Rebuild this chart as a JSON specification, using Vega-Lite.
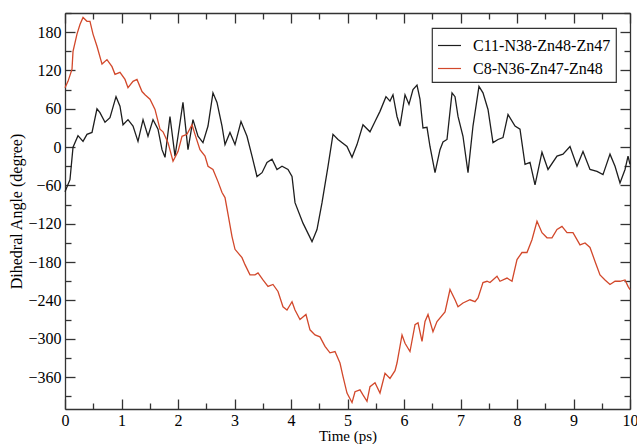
{
  "$schema": "https://vega.github.io/schema/vega-lite/v6.json",
  "width": 565,
  "height": 396,
  "autosize": {"type": "none"},
  "padding": {"left": 65, "top": 13, "right": 7, "bottom": 35},
  "background": "white",
  "config": {
    "view": {"stroke": null},
    "font": "Liberation Serif, Times New Roman, serif",
    "axis": {"grid": false, "labelFont": "Liberation Serif, Times New Roman, serif", "titleFont": "Liberation Serif, Times New Roman, serif", "labelColor": "#000", "titleColor": "#000", "domainColor": "#333", "tickColor": "#333", "domainWidth": 1.3, "tickWidth": 1.3, "titleFontWeight": "normal"},
    "legend": {"orient": "none", "legendX": 367, "legendY": 15, "strokeColor": "#333", "strokeWidth": 1.2, "fillColor": "white", "padding": 5, "symbolType": "stroke", "symbolSize": 529, "symbolStrokeWidth": 1.2, "labelFont": "Liberation Serif, Times New Roman, serif", "labelFontSize": 16, "labelColor": "#000", "labelOffset": 11, "rowPadding": 2, "labelLimit": 300, "cornerRadius": 0}
  },
  "datasets": {
    "d": [
      {"t":0,"v":-70,"s":"C11-N38-Zn48-Zn47"},{"t":0.088,"v":-51,"s":"C11-N38-Zn48-Zn47"},{"t":0.142,"v":0,"s":"C11-N38-Zn48-Zn47"},{"t":0.23,"v":18,"s":"C11-N38-Zn48-Zn47"},{"t":0.319,"v":9,"s":"C11-N38-Zn48-Zn47"},{"t":0.389,"v":20,"s":"C11-N38-Zn48-Zn47"},{"t":0.478,"v":23,"s":"C11-N38-Zn48-Zn47"},{"t":0.566,"v":60,"s":"C11-N38-Zn48-Zn47"},{"t":0.619,"v":54,"s":"C11-N38-Zn48-Zn47"},{"t":0.708,"v":39,"s":"C11-N38-Zn48-Zn47"},{"t":0.796,"v":46,"s":"C11-N38-Zn48-Zn47"},{"t":0.903,"v":79,"s":"C11-N38-Zn48-Zn47"},{"t":0.973,"v":64,"s":"C11-N38-Zn48-Zn47"},{"t":1.027,"v":35,"s":"C11-N38-Zn48-Zn47"},{"t":1.115,"v":43,"s":"C11-N38-Zn48-Zn47"},{"t":1.204,"v":33,"s":"C11-N38-Zn48-Zn47"},{"t":1.292,"v":9,"s":"C11-N38-Zn48-Zn47"},{"t":1.381,"v":43,"s":"C11-N38-Zn48-Zn47"},{"t":1.469,"v":17,"s":"C11-N38-Zn48-Zn47"},{"t":1.558,"v":43,"s":"C11-N38-Zn48-Zn47"},{"t":1.646,"v":28,"s":"C11-N38-Zn48-Zn47"},{"t":1.717,"v":-4,"s":"C11-N38-Zn48-Zn47"},{"t":1.77,"v":-16,"s":"C11-N38-Zn48-Zn47"},{"t":1.858,"v":48,"s":"C11-N38-Zn48-Zn47"},{"t":1.947,"v":-14,"s":"C11-N38-Zn48-Zn47"},{"t":2.0,"v":17,"s":"C11-N38-Zn48-Zn47"},{"t":2.088,"v":70,"s":"C11-N38-Zn48-Zn47"},{"t":2.177,"v":-4,"s":"C11-N38-Zn48-Zn47"},{"t":2.265,"v":43,"s":"C11-N38-Zn48-Zn47"},{"t":2.354,"v":17,"s":"C11-N38-Zn48-Zn47"},{"t":2.442,"v":7,"s":"C11-N38-Zn48-Zn47"},{"t":2.531,"v":33,"s":"C11-N38-Zn48-Zn47"},{"t":2.619,"v":85,"s":"C11-N38-Zn48-Zn47"},{"t":2.69,"v":70,"s":"C11-N38-Zn48-Zn47"},{"t":2.779,"v":33,"s":"C11-N38-Zn48-Zn47"},{"t":2.832,"v":4,"s":"C11-N38-Zn48-Zn47"},{"t":2.92,"v":23,"s":"C11-N38-Zn48-Zn47"},{"t":3.009,"v":4,"s":"C11-N38-Zn48-Zn47"},{"t":3.115,"v":40,"s":"C11-N38-Zn48-Zn47"},{"t":3.221,"v":17,"s":"C11-N38-Zn48-Zn47"},{"t":3.31,"v":-14,"s":"C11-N38-Zn48-Zn47"},{"t":3.398,"v":-46,"s":"C11-N38-Zn48-Zn47"},{"t":3.487,"v":-40,"s":"C11-N38-Zn48-Zn47"},{"t":3.575,"v":-24,"s":"C11-N38-Zn48-Zn47"},{"t":3.664,"v":-19,"s":"C11-N38-Zn48-Zn47"},{"t":3.752,"v":-35,"s":"C11-N38-Zn48-Zn47"},{"t":3.841,"v":-30,"s":"C11-N38-Zn48-Zn47"},{"t":3.947,"v":-35,"s":"C11-N38-Zn48-Zn47"},{"t":4.018,"v":-46,"s":"C11-N38-Zn48-Zn47"},{"t":4.071,"v":-87,"s":"C11-N38-Zn48-Zn47"},{"t":4.212,"v":-119,"s":"C11-N38-Zn48-Zn47"},{"t":4.372,"v":-148,"s":"C11-N38-Zn48-Zn47"},{"t":4.46,"v":-129,"s":"C11-N38-Zn48-Zn47"},{"t":4.549,"v":-87,"s":"C11-N38-Zn48-Zn47"},{"t":4.655,"v":-30,"s":"C11-N38-Zn48-Zn47"},{"t":4.743,"v":20,"s":"C11-N38-Zn48-Zn47"},{"t":4.832,"v":12,"s":"C11-N38-Zn48-Zn47"},{"t":4.991,"v":1,"s":"C11-N38-Zn48-Zn47"},{"t":5.08,"v":-16,"s":"C11-N38-Zn48-Zn47"},{"t":5.168,"v":4,"s":"C11-N38-Zn48-Zn47"},{"t":5.274,"v":35,"s":"C11-N38-Zn48-Zn47"},{"t":5.398,"v":24,"s":"C11-N38-Zn48-Zn47"},{"t":5.487,"v":40,"s":"C11-N38-Zn48-Zn47"},{"t":5.575,"v":56,"s":"C11-N38-Zn48-Zn47"},{"t":5.681,"v":79,"s":"C11-N38-Zn48-Zn47"},{"t":5.752,"v":72,"s":"C11-N38-Zn48-Zn47"},{"t":5.805,"v":82,"s":"C11-N38-Zn48-Zn47"},{"t":5.876,"v":48,"s":"C11-N38-Zn48-Zn47"},{"t":5.929,"v":33,"s":"C11-N38-Zn48-Zn47"},{"t":6.018,"v":82,"s":"C11-N38-Zn48-Zn47"},{"t":6.088,"v":67,"s":"C11-N38-Zn48-Zn47"},{"t":6.159,"v":90,"s":"C11-N38-Zn48-Zn47"},{"t":6.23,"v":97,"s":"C11-N38-Zn48-Zn47"},{"t":6.283,"v":75,"s":"C11-N38-Zn48-Zn47"},{"t":6.336,"v":30,"s":"C11-N38-Zn48-Zn47"},{"t":6.407,"v":31,"s":"C11-N38-Zn48-Zn47"},{"t":6.46,"v":1,"s":"C11-N38-Zn48-Zn47"},{"t":6.549,"v":-40,"s":"C11-N38-Zn48-Zn47"},{"t":6.637,"v":-4,"s":"C11-N38-Zn48-Zn47"},{"t":6.69,"v":8,"s":"C11-N38-Zn48-Zn47"},{"t":6.761,"v":12,"s":"C11-N38-Zn48-Zn47"},{"t":6.85,"v":85,"s":"C11-N38-Zn48-Zn47"},{"t":6.903,"v":79,"s":"C11-N38-Zn48-Zn47"},{"t":6.956,"v":48,"s":"C11-N38-Zn48-Zn47"},{"t":7.044,"v":17,"s":"C11-N38-Zn48-Zn47"},{"t":7.133,"v":-40,"s":"C11-N38-Zn48-Zn47"},{"t":7.221,"v":33,"s":"C11-N38-Zn48-Zn47"},{"t":7.327,"v":95,"s":"C11-N38-Zn48-Zn47"},{"t":7.398,"v":85,"s":"C11-N38-Zn48-Zn47"},{"t":7.487,"v":59,"s":"C11-N38-Zn48-Zn47"},{"t":7.575,"v":7,"s":"C11-N38-Zn48-Zn47"},{"t":7.664,"v":12,"s":"C11-N38-Zn48-Zn47"},{"t":7.752,"v":15,"s":"C11-N38-Zn48-Zn47"},{"t":7.841,"v":51,"s":"C11-N38-Zn48-Zn47"},{"t":7.965,"v":33,"s":"C11-N38-Zn48-Zn47"},{"t":8.053,"v":28,"s":"C11-N38-Zn48-Zn47"},{"t":8.142,"v":-27,"s":"C11-N38-Zn48-Zn47"},{"t":8.23,"v":-24,"s":"C11-N38-Zn48-Zn47"},{"t":8.319,"v":-59,"s":"C11-N38-Zn48-Zn47"},{"t":8.442,"v":-8,"s":"C11-N38-Zn48-Zn47"},{"t":8.549,"v":-35,"s":"C11-N38-Zn48-Zn47"},{"t":8.708,"v":-14,"s":"C11-N38-Zn48-Zn47"},{"t":8.814,"v":-11,"s":"C11-N38-Zn48-Zn47"},{"t":8.938,"v":1,"s":"C11-N38-Zn48-Zn47"},{"t":9.062,"v":-30,"s":"C11-N38-Zn48-Zn47"},{"t":9.168,"v":-7,"s":"C11-N38-Zn48-Zn47"},{"t":9.292,"v":-35,"s":"C11-N38-Zn48-Zn47"},{"t":9.416,"v":-38,"s":"C11-N38-Zn48-Zn47"},{"t":9.522,"v":-43,"s":"C11-N38-Zn48-Zn47"},{"t":9.646,"v":-11,"s":"C11-N38-Zn48-Zn47"},{"t":9.735,"v":-30,"s":"C11-N38-Zn48-Zn47"},{"t":9.823,"v":-56,"s":"C11-N38-Zn48-Zn47"},{"t":9.912,"v":-35,"s":"C11-N38-Zn48-Zn47"},{"t":9.965,"v":-14,"s":"C11-N38-Zn48-Zn47"},{"t":10.0,"v":-27,"s":"C11-N38-Zn48-Zn47"},
      {"t":0,"v":93,"s":"C8-N36-Zn47-Zn48"},{"t":0.053,"v":103,"s":"C8-N36-Zn47-Zn48"},{"t":0.124,"v":122,"s":"C8-N36-Zn47-Zn48"},{"t":0.142,"v":150,"s":"C8-N36-Zn47-Zn48"},{"t":0.212,"v":177,"s":"C8-N36-Zn47-Zn48"},{"t":0.265,"v":192,"s":"C8-N36-Zn47-Zn48"},{"t":0.319,"v":203,"s":"C8-N36-Zn47-Zn48"},{"t":0.389,"v":197,"s":"C8-N36-Zn47-Zn48"},{"t":0.442,"v":197,"s":"C8-N36-Zn47-Zn48"},{"t":0.496,"v":177,"s":"C8-N36-Zn47-Zn48"},{"t":0.566,"v":158,"s":"C8-N36-Zn47-Zn48"},{"t":0.655,"v":130,"s":"C8-N36-Zn47-Zn48"},{"t":0.743,"v":137,"s":"C8-N36-Zn47-Zn48"},{"t":0.832,"v":126,"s":"C8-N36-Zn47-Zn48"},{"t":0.885,"v":114,"s":"C8-N36-Zn47-Zn48"},{"t":0.973,"v":117,"s":"C8-N36-Zn47-Zn48"},{"t":1.062,"v":106,"s":"C8-N36-Zn47-Zn48"},{"t":1.115,"v":93,"s":"C8-N36-Zn47-Zn48"},{"t":1.204,"v":103,"s":"C8-N36-Zn47-Zn48"},{"t":1.274,"v":106,"s":"C8-N36-Zn47-Zn48"},{"t":1.363,"v":87,"s":"C8-N36-Zn47-Zn48"},{"t":1.416,"v":82,"s":"C8-N36-Zn47-Zn48"},{"t":1.504,"v":75,"s":"C8-N36-Zn47-Zn48"},{"t":1.593,"v":59,"s":"C8-N36-Zn47-Zn48"},{"t":1.681,"v":28,"s":"C8-N36-Zn47-Zn48"},{"t":1.735,"v":24,"s":"C8-N36-Zn47-Zn48"},{"t":1.823,"v":7,"s":"C8-N36-Zn47-Zn48"},{"t":1.912,"v":-22,"s":"C8-N36-Zn47-Zn48"},{"t":2.0,"v":-7,"s":"C8-N36-Zn47-Zn48"},{"t":2.071,"v":17,"s":"C8-N36-Zn47-Zn48"},{"t":2.159,"v":20,"s":"C8-N36-Zn47-Zn48"},{"t":2.248,"v":35,"s":"C8-N36-Zn47-Zn48"},{"t":2.301,"v":20,"s":"C8-N36-Zn47-Zn48"},{"t":2.389,"v":-4,"s":"C8-N36-Zn47-Zn48"},{"t":2.478,"v":-14,"s":"C8-N36-Zn47-Zn48"},{"t":2.531,"v":-30,"s":"C8-N36-Zn47-Zn48"},{"t":2.619,"v":-35,"s":"C8-N36-Zn47-Zn48"},{"t":2.708,"v":-54,"s":"C8-N36-Zn47-Zn48"},{"t":2.779,"v":-71,"s":"C8-N36-Zn47-Zn48"},{"t":2.832,"v":-79,"s":"C8-N36-Zn47-Zn48"},{"t":2.885,"v":-105,"s":"C8-N36-Zn47-Zn48"},{"t":2.956,"v":-140,"s":"C8-N36-Zn47-Zn48"},{"t":3.009,"v":-160,"s":"C8-N36-Zn47-Zn48"},{"t":3.133,"v":-173,"s":"C8-N36-Zn47-Zn48"},{"t":3.186,"v":-184,"s":"C8-N36-Zn47-Zn48"},{"t":3.274,"v":-200,"s":"C8-N36-Zn47-Zn48"},{"t":3.363,"v":-200,"s":"C8-N36-Zn47-Zn48"},{"t":3.416,"v":-197,"s":"C8-N36-Zn47-Zn48"},{"t":3.504,"v":-208,"s":"C8-N36-Zn47-Zn48"},{"t":3.593,"v":-218,"s":"C8-N36-Zn47-Zn48"},{"t":3.681,"v":-215,"s":"C8-N36-Zn47-Zn48"},{"t":3.77,"v":-226,"s":"C8-N36-Zn47-Zn48"},{"t":3.858,"v":-250,"s":"C8-N36-Zn47-Zn48"},{"t":3.929,"v":-255,"s":"C8-N36-Zn47-Zn48"},{"t":4.018,"v":-242,"s":"C8-N36-Zn47-Zn48"},{"t":4.071,"v":-255,"s":"C8-N36-Zn47-Zn48"},{"t":4.159,"v":-270,"s":"C8-N36-Zn47-Zn48"},{"t":4.265,"v":-262,"s":"C8-N36-Zn47-Zn48"},{"t":4.336,"v":-286,"s":"C8-N36-Zn47-Zn48"},{"t":4.425,"v":-294,"s":"C8-N36-Zn47-Zn48"},{"t":4.513,"v":-297,"s":"C8-N36-Zn47-Zn48"},{"t":4.602,"v":-312,"s":"C8-N36-Zn47-Zn48"},{"t":4.69,"v":-322,"s":"C8-N36-Zn47-Zn48"},{"t":4.779,"v":-320,"s":"C8-N36-Zn47-Zn48"},{"t":4.867,"v":-338,"s":"C8-N36-Zn47-Zn48"},{"t":4.92,"v":-359,"s":"C8-N36-Zn47-Zn48"},{"t":4.991,"v":-385,"s":"C8-N36-Zn47-Zn48"},{"t":5.08,"v":-400,"s":"C8-N36-Zn47-Zn48"},{"t":5.133,"v":-383,"s":"C8-N36-Zn47-Zn48"},{"t":5.221,"v":-380,"s":"C8-N36-Zn47-Zn48"},{"t":5.274,"v":-388,"s":"C8-N36-Zn47-Zn48"},{"t":5.345,"v":-398,"s":"C8-N36-Zn47-Zn48"},{"t":5.398,"v":-375,"s":"C8-N36-Zn47-Zn48"},{"t":5.487,"v":-369,"s":"C8-N36-Zn47-Zn48"},{"t":5.575,"v":-385,"s":"C8-N36-Zn47-Zn48"},{"t":5.664,"v":-354,"s":"C8-N36-Zn47-Zn48"},{"t":5.752,"v":-362,"s":"C8-N36-Zn47-Zn48"},{"t":5.841,"v":-350,"s":"C8-N36-Zn47-Zn48"},{"t":5.876,"v":-338,"s":"C8-N36-Zn47-Zn48"},{"t":5.965,"v":-294,"s":"C8-N36-Zn47-Zn48"},{"t":6.018,"v":-307,"s":"C8-N36-Zn47-Zn48"},{"t":6.106,"v":-320,"s":"C8-N36-Zn47-Zn48"},{"t":6.195,"v":-278,"s":"C8-N36-Zn47-Zn48"},{"t":6.248,"v":-275,"s":"C8-N36-Zn47-Zn48"},{"t":6.319,"v":-304,"s":"C8-N36-Zn47-Zn48"},{"t":6.372,"v":-273,"s":"C8-N36-Zn47-Zn48"},{"t":6.425,"v":-262,"s":"C8-N36-Zn47-Zn48"},{"t":6.513,"v":-289,"s":"C8-N36-Zn47-Zn48"},{"t":6.584,"v":-273,"s":"C8-N36-Zn47-Zn48"},{"t":6.726,"v":-258,"s":"C8-N36-Zn47-Zn48"},{"t":6.814,"v":-223,"s":"C8-N36-Zn47-Zn48"},{"t":6.903,"v":-239,"s":"C8-N36-Zn47-Zn48"},{"t":6.956,"v":-250,"s":"C8-N36-Zn47-Zn48"},{"t":7.044,"v":-244,"s":"C8-N36-Zn47-Zn48"},{"t":7.168,"v":-239,"s":"C8-N36-Zn47-Zn48"},{"t":7.257,"v":-242,"s":"C8-N36-Zn47-Zn48"},{"t":7.31,"v":-236,"s":"C8-N36-Zn47-Zn48"},{"t":7.398,"v":-212,"s":"C8-N36-Zn47-Zn48"},{"t":7.469,"v":-210,"s":"C8-N36-Zn47-Zn48"},{"t":7.522,"v":-212,"s":"C8-N36-Zn47-Zn48"},{"t":7.646,"v":-202,"s":"C8-N36-Zn47-Zn48"},{"t":7.699,"v":-210,"s":"C8-N36-Zn47-Zn48"},{"t":7.823,"v":-205,"s":"C8-N36-Zn47-Zn48"},{"t":7.912,"v":-210,"s":"C8-N36-Zn47-Zn48"},{"t":8.0,"v":-176,"s":"C8-N36-Zn47-Zn48"},{"t":8.088,"v":-165,"s":"C8-N36-Zn47-Zn48"},{"t":8.177,"v":-165,"s":"C8-N36-Zn47-Zn48"},{"t":8.265,"v":-145,"s":"C8-N36-Zn47-Zn48"},{"t":8.354,"v":-116,"s":"C8-N36-Zn47-Zn48"},{"t":8.442,"v":-134,"s":"C8-N36-Zn47-Zn48"},{"t":8.531,"v":-142,"s":"C8-N36-Zn47-Zn48"},{"t":8.619,"v":-142,"s":"C8-N36-Zn47-Zn48"},{"t":8.708,"v":-129,"s":"C8-N36-Zn47-Zn48"},{"t":8.796,"v":-124,"s":"C8-N36-Zn47-Zn48"},{"t":8.885,"v":-134,"s":"C8-N36-Zn47-Zn48"},{"t":8.991,"v":-134,"s":"C8-N36-Zn47-Zn48"},{"t":9.115,"v":-153,"s":"C8-N36-Zn47-Zn48"},{"t":9.204,"v":-150,"s":"C8-N36-Zn47-Zn48"},{"t":9.292,"v":-157,"s":"C8-N36-Zn47-Zn48"},{"t":9.381,"v":-179,"s":"C8-N36-Zn47-Zn48"},{"t":9.469,"v":-200,"s":"C8-N36-Zn47-Zn48"},{"t":9.558,"v":-208,"s":"C8-N36-Zn47-Zn48"},{"t":9.646,"v":-215,"s":"C8-N36-Zn47-Zn48"},{"t":9.735,"v":-210,"s":"C8-N36-Zn47-Zn48"},{"t":9.823,"v":-210,"s":"C8-N36-Zn47-Zn48"},{"t":9.912,"v":-208,"s":"C8-N36-Zn47-Zn48"},{"t":9.965,"v":-218,"s":"C8-N36-Zn47-Zn48"},{"t":10.0,"v":-223,"s":"C8-N36-Zn47-Zn48"}
    ]
  },
  "data": {"name": "d"},
  "resolve": {"axis": {"x": "independent", "y": "independent"}},
  "layer": [
    {
      "mark": {"type": "line", "strokeWidth": 1.3, "interpolate": "linear"},
      "encoding": {
        "x": {"field": "t", "type": "quantitative", "scale": {"domain": [0, 10], "nice": false, "zero": false},
          "axis": {"orient": "bottom", "values": [0,1,2,3,4,5,6,7,8,9,10], "ticks": false, "labelPadding": 3, "labelFontSize": 16, "title": "Time (ps)", "titleFontSize": 15, "titlePadding": 0, "labelFlush": false}},
        "y": {"field": "v", "type": "quantitative", "scale": {"domain": [-410, 210], "nice": false, "zero": false},
          "axis": {"orient": "left", "values": [-360,-300,-240,-180,-120,-60,0,60,120,180], "ticks": false, "labelPadding": 4, "labelFontSize": 16, "title": "Dihedral Angle (degree)", "titleFontSize": 16, "titlePadding": 3}},
        "color": {"field": "s", "type": "nominal", "scale": {"domain": ["C11-N38-Zn48-Zn47", "C8-N36-Zn47-Zn48"], "range": ["#1e1e1e", "#d2482b"]}, "legend": {"title": null}},
        "order": {"field": "t", "type": "quantitative"}
      }
    },
    {
      "mark": {"type": "line", "opacity": 0},
      "encoding": {
        "x": {"field": "t", "type": "quantitative", "axis": {"orient": "bottom", "values": [0,1,2,3,4,5,6,7,8,9,10], "labels": false, "domain": false, "tickSize": -10, "title": null}},
        "y": {"field": "v", "type": "quantitative", "axis": {"orient": "left", "values": [-360,-300,-240,-180,-120,-60,0,60,120,180], "labels": false, "domain": false, "tickSize": -10, "title": null}}
      }
    },
    {
      "mark": {"type": "line", "opacity": 0},
      "encoding": {
        "x": {"field": "t", "type": "quantitative", "axis": {"orient": "top", "values": [0,1,2,3,4,5,6,7,8,9,10], "labels": false, "tickSize": -10, "title": null}},
        "y": {"field": "v", "type": "quantitative", "axis": {"orient": "right", "values": [-360,-300,-240,-180,-120,-60,0,60,120,180], "labels": false, "tickSize": -10, "title": null}}
      }
    },
    {
      "mark": {"type": "line", "opacity": 0},
      "encoding": {
        "x": {"field": "t", "type": "quantitative", "axis": {"orient": "bottom", "values": [0.5,1.5,2.5,3.5,4.5,5.5,6.5,7.5,8.5,9.5], "labels": false, "domain": false, "tickSize": -6, "title": null}},
        "y": {"field": "v", "type": "quantitative", "axis": {"orient": "left", "values": [-390,-330,-270,-210,-150,-90,-30,30,90,150,210], "labels": false, "domain": false, "tickSize": -6, "title": null}}
      }
    },
    {
      "mark": {"type": "line", "opacity": 0},
      "encoding": {
        "x": {"field": "t", "type": "quantitative", "axis": {"orient": "top", "values": [0.5,1.5,2.5,3.5,4.5,5.5,6.5,7.5,8.5,9.5], "labels": false, "domain": false, "tickSize": -6, "title": null}},
        "y": {"field": "v", "type": "quantitative", "axis": {"orient": "right", "values": [-390,-330,-270,-210,-150,-90,-30,30,90,150,210], "labels": false, "domain": false, "tickSize": -6, "title": null}}
      }
    }
  ]
}
